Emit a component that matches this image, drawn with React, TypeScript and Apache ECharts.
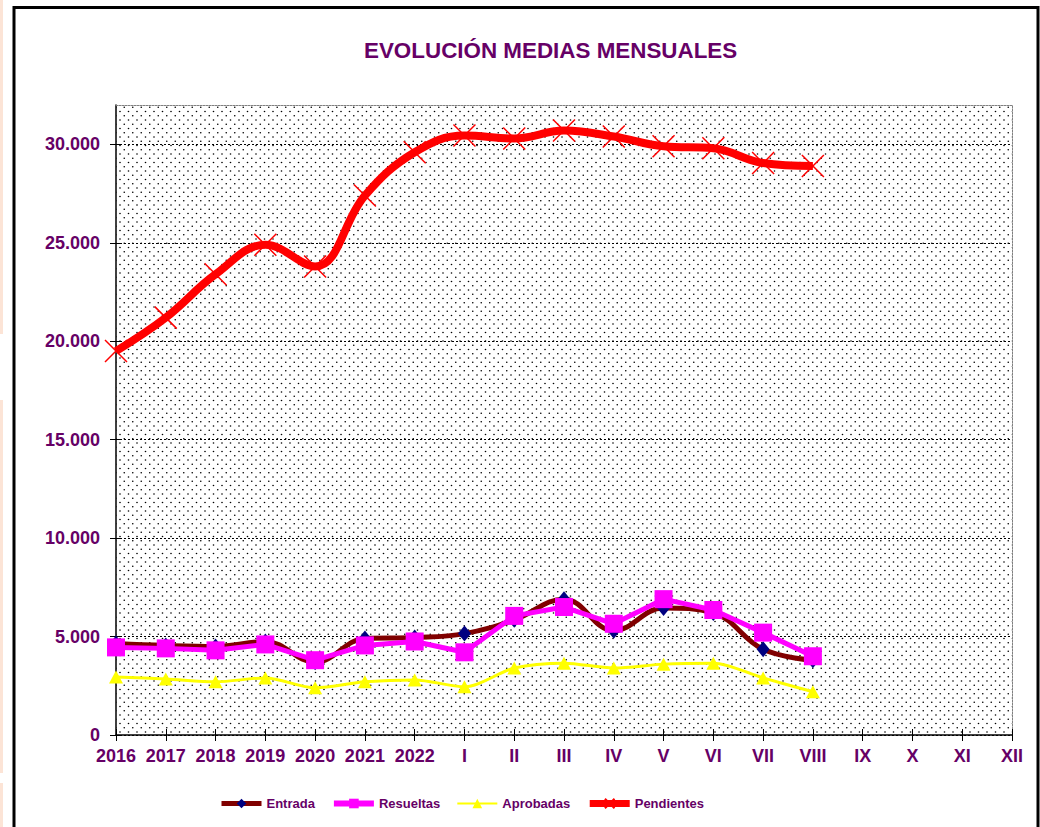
import React, { useEffect, useRef } from 'react';
import * as echarts from 'echarts';

const categories = ['2016', '2017', '2018', '2019', '2020', '2021', '2022', 'I', 'II', 'III', 'IV', 'V', 'VI', 'VII', 'VIII', 'IX', 'X', 'XI', 'XII'];
const entrada = [4650, 4550, 4500, 4750, 3700, 4900, 4950, 5150, 5850, 6900, 5300, 6450, 6200, 4350, 3800];
const resueltas = [4450, 4400, 4300, 4600, 3800, 4550, 4750, 4200, 6050, 6500, 5650, 6900, 6350, 5200, 4000];
const aprobadas = [2950, 2850, 2700, 2900, 2400, 2700, 2800, 2450, 3400, 3650, 3400, 3600, 3650, 2900, 2200];
const pendientes = [19500, 21200, 23400, 24900, 23800, 27400, 29600, 30450, 30300, 30700, 30400, 29900, 29800, 29050, 28900];
const yTicks = [0, 5000, 10000, 15000, 20000, 25000, 30000];
const seriesNames = ['Entrada', 'Resueltas', 'Aprobadas', 'Pendientes'];

const purple = '#660066';
const font = '"Liberation Sans", Arial, sans-serif';

function makeDotPattern(): HTMLCanvasElement {
  const c = document.createElement('canvas');
  c.width = 17;
  c.height = 17;
  const ctx = c.getContext('2d')!;
  ctx.fillStyle = '#ffffff';
  ctx.fillRect(0, 0, 17, 17);
  ctx.fillStyle = '#000000';
  const pts = [
    [1, 1], [9.5, 1], [5.25, 5.25], [13.75, 5.25],
    [1, 9.5], [9.5, 9.5], [5.25, 13.75], [13.75, 13.75],
  ];
  pts.forEach(([x, y]) => {
    ctx.beginPath();
    ctx.arc(x, y, 0.8, 0, Math.PI * 2);
    ctx.fill();
  });
  return c;
}

const toPairs = (arr: number[]) => arr.map((v, i) => [i, v]);
const fmtThousands = (v: number) => (v === 0 ? '0' : (v / 1000).toFixed(3));

export default function App() {
  const ref = useRef<HTMLDivElement>(null);

  useEffect(() => {
    if (!ref.current) return;
    const chart = echarts.init(ref.current, undefined, { renderer: 'svg' });
    const xIdx = categories.map((_, i) => i);
    const xMax = categories.length - 1;
    const pattern = makeDotPattern();

    const legendWidths: Record<string, number> = { Entrada: 5, Resueltas: 6, Aprobadas: 2, Pendientes: 7 };

    const option: any = {
      animation: false,
      backgroundColor: '#ffffff',
      title: {
        text: 'EVOLUCIÓN MEDIAS MENSUALES',
        left: 359,
        top: 34,
        textStyle: { color: purple, fontFamily: font, fontWeight: 'bold', fontSize: 22.4 },
      },
      grid: {
        left: 116,
        right: 28,
        top: 105,
        bottom: 92,
        show: true,
        borderWidth: 0,
        backgroundColor: { image: pattern, repeat: 'repeat' },
      },
      legend: {
        data: seriesNames.map((n) => ({ name: n, lineStyle: { width: legendWidths[n] } })),
        left: 214,
        top: 792,
        itemWidth: 40,
        itemHeight: 12,
        itemGap: 16,
        textStyle: { color: purple, fontFamily: font, fontWeight: 'bold', fontSize: 13 },
      },
      graphic: [
        { type: 'rect', shape: { x: 0, y: 0, width: 3, height: 334 }, style: { fill: '#FCE4D6' }, z: 100 },
        { type: 'rect', shape: { x: 0, y: 400, width: 3, height: 373 }, style: { fill: '#FCE4D6' }, z: 100 },
        { type: 'rect', shape: { x: 0, y: 783, width: 3, height: 44 }, style: { fill: '#FCE4D6' }, z: 100 },
        { type: 'rect', shape: { x: 14, y: 7.5, width: 1024, height: 1000 }, style: { fill: 'none', stroke: '#000', lineWidth: 3 }, z: 100 },
      ],
      xAxis: [
        {
          type: 'value', position: 'bottom', min: 0, max: xMax, interval: 1,
          axisLine: { show: true, onZero: false, lineStyle: { color: '#000', width: 1.5 } },
          axisTick: { show: true, length: 6, customValues: xIdx, lineStyle: { color: '#000' } },
          axisLabel: {
            customValues: xIdx,
            formatter: (v: number) => categories[Math.round(v)] ?? '',
            color: purple, fontFamily: font, fontWeight: 'bold', fontSize: 18, margin: 12,
          },
          splitLine: { show: false },
        },
        {
          type: 'value', position: 'bottom', min: 0, max: xMax, interval: 1,
          axisLine: { show: false, onZero: false },
          axisTick: { show: true, inside: true, length: 6, customValues: xIdx, lineStyle: { color: '#000' } },
          axisLabel: { show: false },
          splitLine: { show: false },
        },
        {
          type: 'value', position: 'top', min: 0, max: xMax,
          axisLine: { show: true, onZero: false, lineStyle: { color: '#808080', type: [2, 1], width: 1 } },
          axisTick: { show: false },
          axisLabel: { show: false },
          splitLine: { show: false },
        },
      ],
      yAxis: [
        {
          type: 'value', position: 'left', min: 0, max: 32000, interval: 5000,
          axisLine: { show: true, onZero: false, lineStyle: { color: '#000', width: 1.5 } },
          axisTick: { show: true, length: 6, customValues: yTicks, lineStyle: { color: '#000' } },
          axisLabel: {
            customValues: yTicks,
            formatter: (v: number) => fmtThousands(v),
            color: purple, fontFamily: font, fontWeight: 'bold', fontSize: 18, margin: 16,
          },
          splitLine: { show: true, lineStyle: { color: '#000', type: [2, 2], width: 1 } },
        },
        {
          type: 'value', position: 'left', min: 0, max: 32000, interval: 5000,
          axisLine: { show: false, onZero: false },
          axisTick: { show: true, inside: true, length: 4, customValues: yTicks, lineStyle: { color: '#000' } },
          axisLabel: { show: false },
          splitLine: { show: false },
        },
        {
          type: 'value', position: 'right', min: 0, max: 32000,
          axisLine: { show: true, onZero: false, lineStyle: { color: '#808080', type: [2, 1], width: 1 } },
          axisTick: { show: false },
          axisLabel: { show: false },
          splitLine: { show: false },
        },
      ],
      series: [
        {
          name: 'Entrada', type: 'line', xAxisIndex: 0, yAxisIndex: 0,
          data: toPairs(entrada), smooth: 0.4,
          lineStyle: { color: '#800000', width: 5 },
          symbol: 'diamond', symbolSize: [13, 16],
          itemStyle: { color: '#000080' },
        },
        {
          name: 'Resueltas', type: 'line', xAxisIndex: 0, yAxisIndex: 0,
          data: toPairs(resueltas), smooth: false,
          lineStyle: { color: '#FF00FF', width: 5 },
          symbol: 'rect', symbolSize: 18,
          itemStyle: { color: '#FF00FF' },
        },
        {
          name: 'Aprobadas', type: 'line', xAxisIndex: 0, yAxisIndex: 0,
          data: toPairs(aprobadas), smooth: 0.3,
          lineStyle: { color: '#FFFF00', width: 3 },
          symbol: 'triangle', symbolSize: [14, 13],
          itemStyle: { color: '#FFFF00' },
        },
        {
          name: 'Pendientes', type: 'line', xAxisIndex: 0, yAxisIndex: 0,
          data: toPairs(pendientes), smooth: 0.4,
          lineStyle: { color: '#FF0000', width: 8 },
          symbol: 'path://M0,0L20,20M20,0L0,20', symbolSize: 22,
          itemStyle: { color: '#FF0000', borderColor: '#FF0000', borderWidth: 1.5 },
        },
      ],
    };

    chart.setOption(option);
    return () => chart.dispose();
  }, []);

  return (
    <div
      ref={ref}
      style={{ position: 'absolute', left: 0, top: 0, width: 1040, height: 827, background: '#fff' }}
    />
  );
}
